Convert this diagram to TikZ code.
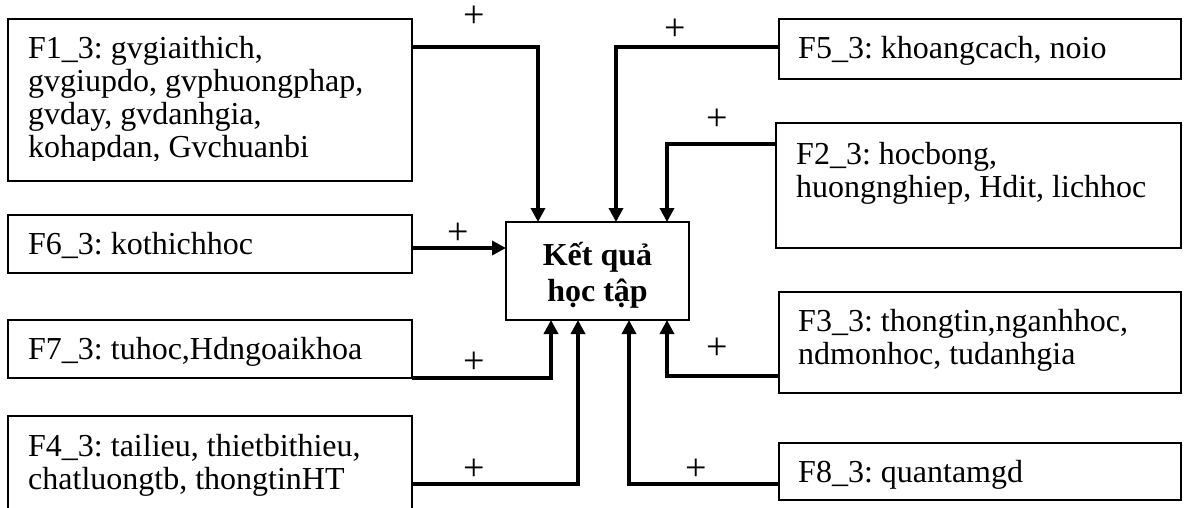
\documentclass[tikz,border=0pt]{standalone}
\usepackage{fontspec}
\setmainfont{Liberation Serif}
\usetikzlibrary{arrows.meta,calc}
\newcommand\firststrut{\rule{0pt}{25pt}}
\frenchspacing
\begin{document}
\begin{tikzpicture}[x=1pt,y=-1pt,
  box/.style={draw, line width=1.8pt, inner sep=0pt, outer sep=0pt, anchor=north west},
  txt/.style={anchor=north west, inner sep=0pt, align=left, font=\fontsize{32}{33}\selectfont},
  conn/.style={line width=3.4pt, -{Triangle[length=14pt,width=14pt]}},
  plus/.style={font=\fontsize{38}{38}\selectfont, inner sep=0pt}]
\useasboundingbox (0,0) rectangle (1185,507);
% boxes
\node[box, minimum width=404pt, minimum height=162pt] (f1) at (8,19) {};
\node[box, minimum width=404pt, minimum height=58pt] (f6) at (8,215) {};
\node[box, minimum width=404pt, minimum height=58pt] (f7) at (8,320) {};
\node[box, minimum width=404pt, minimum height=110pt] (f4) at (8,416) {};
\node[box, minimum width=402pt, minimum height=60pt] (f5) at (779,19) {};
\node[box, minimum width=405pt, minimum height=125pt] (f2) at (776,123) {};
\node[box, minimum width=402pt, minimum height=101pt] (f3) at (779,292) {};
\node[box, minimum width=402pt, minimum height=57pt] (f8) at (779,443) {};
\node[box, minimum width=183pt, minimum height=98pt] (k) at (506,222) {};
% texts
\begin{scope}
\clip (8,19) rectangle (412,160);
\node[txt] (t1) at (28,33) {\firststrut F1\_3: gvgiaithich,\\ gvgiupdo, gvphuongphap,\\ gvday, gvdanhgia,\\ kohapdan, Gvchuanbi};
\end{scope}
\node[txt] (t6) at (28,229) {\firststrut F6\_3: kothichhoc};
\node[txt] (t7) at (28,334) {\firststrut F7\_3: tuhoc,Hdngoaikhoa};
\node[txt] (t4) at (28,431) {\firststrut F4\_3: tailieu, thietbithieu,\\ chatluongtb, thongtinHT};
\node[txt] (t5) at (798,33) {\firststrut F5\_3: khoangcach, noio};
\node[txt] (t2) at (796,139) {\firststrut F2\_3: hocbong,\\ huongnghiep, Hdit, lichhoc};
\node[txt] (t3) at (798,306) {\firststrut F3\_3: thongtin,nganhhoc,\\ ndmonhoc, tudanhgia};
\node[txt] (t8) at (798,457) {\firststrut F8\_3: quantamgd};
\node[inner sep=0pt, align=center, font=\fontsize{32}{36}\selectfont\bfseries] (kt) at ($(k.center)+(0,4)$) {Kết quả\\ học tập};
% connectors
\draw[conn] ($(f1.north east)+(0,28)$) -| ($(k.north west)+(32,0)$);
\draw[conn] ($(f5.north west)+(0,28)$) -| ($(k.north west)+(110,0)$);
\draw[conn] ($(f2.north west)+(0,21)$) -| ($(k.north west)+(161,0)$);
\draw[conn] ($(f6.north east)+(0,33)$) -- ($(k.north west)+(0,26)$);
\draw[conn] (f7.south east) -| ($(k.south west)+(45,0)$);
\draw[conn] ($(f4.north east)+(0,68)$) -| ($(k.south west)+(72,0)$);
\draw[conn] ($(f3.north west)+(0,84)$) -| ($(k.south west)+(161,0)$);
\draw[conn] ($(f8.north west)+(0,41)$) -| ($(k.south west)+(123,0)$);
% plus signs
\node[plus] (p1) at (474,17) {+};
\node[plus] (p5) at (675,30) {+};
\node[plus] (p2) at (717,120) {+};
\node[plus] (p6) at (458,234) {+};
\node[plus] (p7) at (474,363) {+};
\node[plus] (p4) at (474,470) {+};
\node[plus] (p3) at (717,349) {+};
\node[plus] (p8) at (696,470) {+};
\end{tikzpicture}
\end{document}
